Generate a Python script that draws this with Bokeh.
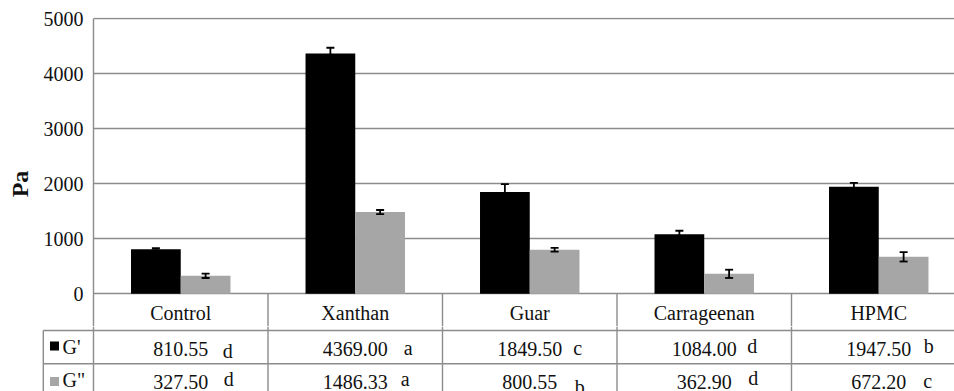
from math import pi

from bokeh.embed import file_html
from bokeh.layouts import column, row
from bokeh.models import (ColumnDataSource, FixedTicker, Range1d, TeeHead,
                          Whisker)
from bokeh.plotting import figure
from bokeh.resources import INLINE
from bokeh.core.properties import value

# ---- data -------------------------------------------------------------
categories = ["Control", "Xanthan", "Guar", "Carrageenan", "HPMC"]
g_storage = [810.55, 4369.00, 1849.50, 1084.00, 1947.50]      # G'
g_loss = [327.50, 1486.33, 800.55, 362.90, 672.20]            # G''
g_storage_err = [20, 105, 145, 62, 70]
g_loss_err = [40, 37, 35, 75, 85]
g_storage_letters = ["d", "a", "c", "d", "b"]
g_loss_letters = ["d", "a", "b", "d", "c"]
series_names = ["G'", 'G"']
y_ticks = [0, 1000, 2000, 3000, 4000, 5000]

# ---- style ------------------------------------------------------------
FONT = "Liberation Serif"
BLACK = "#000000"
GREY = "#a6a6a6"
LINE = "#8c8c8c"
TEXT = "#111111"
W, H = 954, 391
SIDE_W = 40             # strip holding the vertical axis title
CAT_PX = 174.5          # pixels per category
LEFT = 93               # page x of the plotting frame's left edge
ZERO_PX, TOP_PX = 293.3, 18.3
PX_PER_UNIT = (ZERO_PX - TOP_PX) / 5000.0
TOP_H = 326             # chart canvas also holds the category header row
BOT_H = H - TOP_H
BAR_W = 0.285
# table rows (page pixels)
ROW_LINES = [330, 363.3]
HEADER_Y = 312.5
STORAGE_Y, LOSS_Y = 348.5, 381
# letter offsets (px right of cell centre, px above the value centre)
storage_letter_dx = [47, 53, 48, 48, 50]
storage_letter_dy = [-2, 1, 1, 3, 3]
loss_letter_dx = [48, 50, 50, 49, 49]
loss_letter_dy = [3, 3, -5, 4, 1]


def bare(fig):
    fig.frame_align = False
    fig.outline_line_color = None
    fig.background_fill_color = "white"
    fig.border_fill_color = "white"
    return fig


font_kw = dict(text_font=value(FONT), text_font_size="20px", text_color=TEXT,
               text_baseline="middle")

# ---- axis title strip -------------------------------------------------
side = bare(figure(width=SIDE_W, height=H, output_backend="svg",
                   toolbar_location=None, x_range=Range1d(0, SIDE_W),
                   y_range=Range1d(0, H), x_axis_location=None,
                   y_axis_location=None, min_border=0))
side.grid.visible = False
side.text(x=[19], y=[H - 183.5], text=["Pa"], angle=pi / 2,
          text_font=value(FONT), text_font_size="24px",
          text_font_style="bold", text_color=TEXT, text_align="center",
          text_baseline="middle")

# ---- chart ------------------------------------------------------------
x_end = (W - LEFT) / CAT_PX
y_start = -(TOP_H - ZERO_PX) / PX_PER_UNIT
y_end = 5000 + (TOP_PX - 17) / PX_PER_UNIT

p = bare(figure(width=W - SIDE_W, height=TOP_H, output_backend="svg",
                toolbar_location=None, x_range=Range1d(0, x_end),
                y_range=Range1d(y_start, y_end), x_axis_location=None,
                min_border_left=LEFT - SIDE_W, min_border_right=0,
                min_border_top=17, min_border_bottom=0))
p.xgrid.visible = False
p.ygrid.ticker = FixedTicker(ticks=y_ticks)
p.ygrid.grid_line_color = LINE
p.ygrid.grid_line_width = 1.4

ax = p.yaxis[0]
ax.ticker = FixedTicker(ticks=y_ticks)
ax.bounds = (y_start, 5000)
ax.major_tick_line_color = None
ax.major_tick_out = 0
ax.major_tick_in = 0
ax.minor_tick_line_color = None
ax.minor_tick_out = 0
ax.axis_line_color = LINE
ax.axis_line_width = 1.4
ax.major_label_text_font = FONT
ax.major_label_text_font_size = "20px"
ax.major_label_text_color = TEXT
ax.major_label_standoff = 10

idx = list(range(len(categories)))
centres = [i + 0.5 for i in idx]
src = ColumnDataSource(dict(
    x_s=[c - BAR_W / 2 for c in centres],
    x_l=[c + BAR_W / 2 for c in centres],
    gs=g_storage, gl=g_loss,
    gs_up=[v + e for v, e in zip(g_storage, g_storage_err)],
    gs_lo=[v - e for v, e in zip(g_storage, g_storage_err)],
    gl_up=[v + e for v, e in zip(g_loss, g_loss_err)],
    gl_lo=[v - e for v, e in zip(g_loss, g_loss_err)],
))
p.vbar(x="x_s", top="gs", width=BAR_W, source=src, fill_color=BLACK, line_color=None)
p.vbar(x="x_l", top="gl", width=BAR_W, source=src, fill_color=GREY, line_color=None)

for up, lo, base in (("gs_up", "gs_lo", "x_s"), ("gl_up", "gl_lo", "x_l")):
    wk = Whisker(source=src, base=base, upper=up, lower=lo, level="overlay",
                 line_color=BLACK, line_width=1.8,
                 upper_head=TeeHead(size=8, line_color=BLACK, line_width=1.8),
                 lower_head=TeeHead(size=8, line_color=BLACK, line_width=1.8))
    p.add_layout(wk)

# category header row of the data table, below the zero line
p.segment(x0=[1, 2, 3, 4], y0=[0] * 4, x1=[1, 2, 3, 4], y1=[y_start] * 4,
          line_color=LINE, line_width=1.4)
header_y = -(HEADER_Y - ZERO_PX) / PX_PER_UNIT
p.text(x=centres, y=[header_y] * 5, text=categories, text_align="center",
       **font_kw)

# ---- data table rows (y measured in page pixels, top to bottom) --------
t = bare(figure(width=W - SIDE_W, height=BOT_H, output_backend="svg",
                toolbar_location=None,
                x_range=Range1d(-(LEFT - SIDE_W) / CAT_PX, x_end),
                y_range=Range1d(H, TOP_H),
                x_axis_location=None, y_axis_location=None, min_border=0))
t.grid.visible = False

col_left = -(LEFT - 42.8) / CAT_PX
t.segment(x0=[col_left] * 2, y0=ROW_LINES, x1=[x_end] * 2, y1=ROW_LINES,
          line_color=LINE, line_width=1.4)
t.segment(x0=[col_left, 0, 1, 2, 3, 4], y0=[ROW_LINES[0]] + [TOP_H] * 5,
          x1=[col_left, 0, 1, 2, 3, 4], y1=[H] * 6,
          line_color=LINE, line_width=1.4)

t.text(x=centres, y=[STORAGE_Y] * 5, text=[f"{v:.2f}" for v in g_storage],
       text_align="center", **font_kw)
t.text(x=centres, y=[LOSS_Y] * 5, text=[f"{v:.2f}" for v in g_loss],
       text_align="center", **font_kw)
t.text(x=[c + dx / CAT_PX for c, dx in zip(centres, storage_letter_dx)],
       y=[STORAGE_Y - dy for dy in storage_letter_dy], text=g_storage_letters,
       text_align="center", **font_kw)
t.text(x=[c + dx / CAT_PX for c, dx in zip(centres, loss_letter_dx)],
       y=[LOSS_Y - dy for dy in loss_letter_dy], text=g_loss_letters,
       text_align="center", **font_kw)

# legend keys and series names in the first column
key_x = -(LEFT - 54) / CAT_PX
t.scatter(x=[key_x, key_x], y=[345.5, 381], marker="square", size=9,
          fill_color=[BLACK, GREY], line_color=None)
t.text(x=[-(LEFT - 62) / CAT_PX] * 2, y=[346, 379], text=series_names,
       text_align="left", **font_kw)

layout = row(side, column(p, t, spacing=0), spacing=0)
open("out.html", "w").write(file_html(layout, INLINE))
